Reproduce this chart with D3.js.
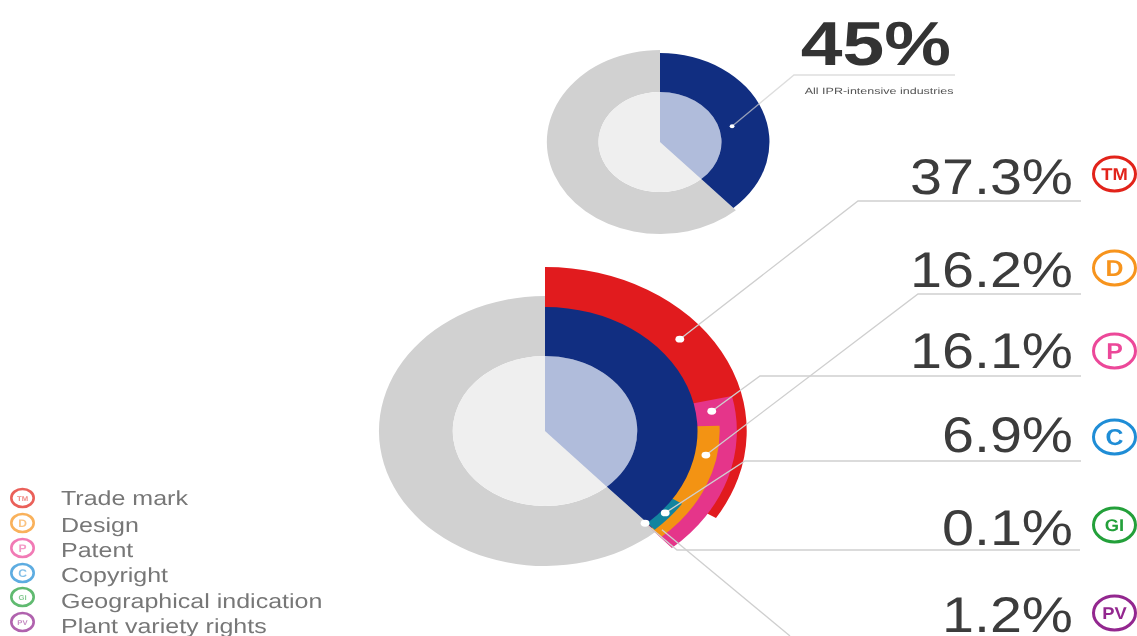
<!DOCTYPE html>
<html>
<head>
<meta charset="utf-8">
<script src="https://cdn.jsdelivr.net/npm/d3@7"></script>
<style>
html,body{margin:0;padding:0;background:#fff;overflow:hidden}
svg{display:block;filter:blur(0.6px)}
text{font-family:"Liberation Sans",Arial,sans-serif;text-rendering:geometricPrecision}
</style>
</head>
<body>
<script>
// ---- data ----
const categories = ["Trade mark","Design","Patent","Copyright","Geographical indication","Plant variety rights"];
const codes = ["TM","D","P","C","GI","PV"];
const valueLabels = ["37.3%","16.2%","16.1%","6.9%","0.1%","1.2%"];
const totalLabel = "45%";
const totalCaption = "All IPR-intensive industries";
// angular extent of every wedge as drawn, in % of a full turn
const arcStart = [0, 24.4, 21.4, 34.2, 38.2, 37.9];
const arcEnd   = [33.9, 38.45, 38.5, 38.3, 38.4, 38.4];
const totalEnd = 38.3;
const dotShare = [13.9, 27.9, 22.7, 36.1, 38.5];
const totalDotShare = 20.8;

// ---- layout and style ----
const W = 1137, H = 636, SX = 1.23;
const colors = ["#e11b1e","#f39313","#e5358a","#12849f","#1fa03a","#6b2a78"];
const iconColors = ["#e2231a","#f7941d","#ec4899","#1f8dd6","#23a03a","#93278f"];
const ringOuter = [164, 142, 156, 133, 126, 130];
const ringDot   = [143, 133, 137, 127.5, 123];
const drawOrder = [0,2,1,5,3,4];
const leaderBend = [[858,201],[918,294],[760,376],[745,461],[677,550]];
const leaderEnd  = [1081,1081,1081,1081,1080];
const labelBase  = [194,287,368,452,545,632];
const iconY = [174,268,351,437,525,613];
const legendY = [498,523,548,573,597,622];
const legendBase = [505,532,557,582,608,633];

const angle = d3.scaleLinear().domain([0,100]).range([0,2*Math.PI]);
const svg = d3.select("body").append("svg").attr("width",W).attr("height",H);
svg.append("rect").attr("width",W).attr("height",H).attr("fill","#fff");

function donut(cx, cy, rOuter, rInner){
  const g = svg.append("g").attr("transform",`translate(${cx},${cy}) scale(${SX},1)`);
  g.append("path").attr("fill","#d1d1d1")
    .attr("d",d3.arc()({innerRadius:rInner,outerRadius:rOuter,startAngle:angle(totalEnd),endAngle:angle(100)}));
  g.append("path").attr("fill","#efefef")
    .attr("d",d3.arc()({innerRadius:0,outerRadius:rInner,startAngle:0,endAngle:2*Math.PI}));
  return g;
}
function pt(cx,cy,share,r){
  const [x,y] = d3.pointRadial(angle(share),r);
  return [cx+x*SX, cy+y];
}
function wedge(g,r0,r1,a0,a1,fill){
  g.append("path").attr("fill",fill)
    .attr("d",d3.arc()({innerRadius:r0,outerRadius:r1,startAngle:angle(a0),endAngle:angle(a1)}));
}
const line = d3.line();

// ---- top donut ----
const topC = {cx:660,cy:142};
const gTop = donut(topC.cx,topC.cy,92,50);
wedge(gTop,0,50,0,totalEnd,"#b0bcdb");
wedge(gTop,50,89,0,totalEnd,"#112e81");

// ---- bottom donut ----
const botC = {cx:545,cy:431};
const gBot = donut(botC.cx,botC.cy,135,75);
wedge(gBot,0,75,0,totalEnd,"#b0bcdb");
drawOrder.forEach(i=>wedge(gBot,123,ringOuter[i],arcStart[i],arcEnd[i],colors[i]));
wedge(gBot,75,124,0,totalEnd,"#112e81");

// ---- leaders ----
const leaders = svg.append("g").attr("fill","none").attr("stroke","#cfcfcf").attr("stroke-width",1.3);
const topDot = pt(topC.cx,topC.cy,totalDotShare,60.7);
leaders.append("path").attr("d",line([topDot,[794,75],[955,75]])).attr("stroke-opacity",0.7);
dotShare.forEach((s,i)=>{
  const p = pt(botC.cx,botC.cy,s,ringDot[i]);
  leaders.append("path").attr("d",line([p,leaderBend[i],[leaderEnd[i],leaderBend[i][1]]]));
});
leaders.append("path").attr("d",line([pt(botC.cx,botC.cy,37.8,137),[790,636]]));

// ---- dots ----
svg.append("ellipse").attr("cx",topDot[0]).attr("cy",topDot[1]).attr("rx",2.4).attr("ry",2).attr("fill","#fff");
dotShare.forEach((s,i)=>{
  const p = pt(botC.cx,botC.cy,s,ringDot[i]);
  svg.append("ellipse").attr("cx",p[0]).attr("cy",p[1]).attr("rx",4.4).attr("ry",3.4).attr("fill","#fff");
});

// ---- stretched text helper ----
function stretched(x,y,str,size,sx,opts={}){
  return svg.append("text")
    .attr("transform",`translate(${x},${y}) scale(${sx},1)`)
    .attr("text-anchor",opts.anchor||"start")
    .attr("font-size",size)
    .attr("font-weight",opts.weight||"normal")
    .attr("fill",opts.fill||"#3c3c3c")
    .attr("opacity",opts.opacity==null?1:opts.opacity)
    .text(str);
}
stretched(951,65,totalLabel,62,1.21,{anchor:"end",weight:"bold",fill:"#333"});
stretched(953.5,94,totalCaption,9,1.39,{anchor:"end",fill:"#555"});

// ---- value labels and badges ----
valueLabels.forEach((t,i)=>{
  stretched(1073,labelBase[i],t,50,1.15,{anchor:"end"});
  svg.append("ellipse").attr("cx",1114.5).attr("cy",iconY[i]).attr("rx",21).attr("ry",17)
    .attr("fill","#fff").attr("stroke",iconColors[i]).attr("stroke-width",3);
  stretched(1114.5,iconY[i]+(codes[i].length>1?6:8),codes[i],codes[i].length>1?17:23,1.08,
    {anchor:"middle",weight:"bold",fill:iconColors[i]});
});

// ---- legend ----
categories.forEach((c,i)=>{
  svg.append("ellipse").attr("cx",22.5).attr("cy",legendY[i]).attr("rx",11.2).attr("ry",9)
    .attr("fill","#fff").attr("stroke",iconColors[i]).attr("stroke-width",2.6).attr("opacity",0.72);
  stretched(22.5,legendY[i]+(codes[i].length>1?2.5:4),codes[i],codes[i].length>1?7:11,1.1,
    {anchor:"middle",weight:"bold",fill:iconColors[i],opacity:0.55});
  stretched(61,legendBase[i],c,20.5,1.22,{fill:"#777"});
});
</script>
</body>
</html>
